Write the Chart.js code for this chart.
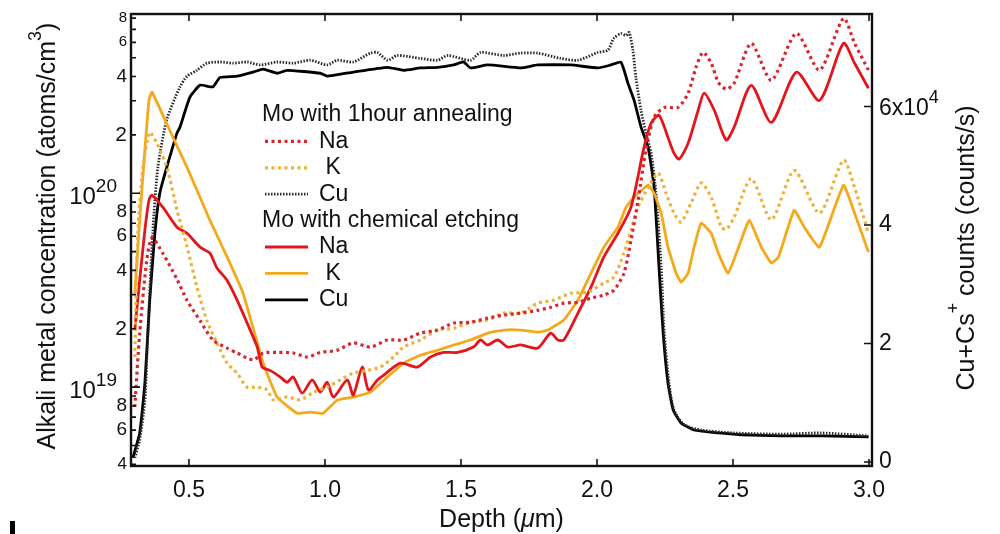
<!DOCTYPE html>
<html>
<head>
<meta charset="utf-8">
<title>SIMS depth profile</title>
<script src="https://cdn.jsdelivr.net/npm/chart.js@4.4.1/dist/chart.umd.min.js"></script>
<style>
  body { margin: 0; background: #fff; }
  #wrap { width: 1000px; height: 534px; }
</style>
</head>
<body>
<div id="wrap"><canvas id="simsChart" width="1000" height="534"></canvas></div>
<script>
// Depth (um) vs concentration (atoms/cm3) pairs, left log axis
const naAnnealed = [[0.301,7.9e18],[0.319,1.9e19],[0.345,4.5e19],[0.364,5.9e19],[0.404,4.9e19],[0.456,3.6e19],[0.493,2.8e19],[0.541,2.2e19],[0.588,1.75e19],[0.640,1.59e19],[0.677,1.50e19],[0.736,1.38e19],[0.773,1.50e19],[0.824,1.51e19],[0.883,1.50e19],[0.935,1.43e19],[0.983,1.51e19],[1.045,1.55e19],[1.104,1.69e19],[1.167,1.61e19],[1.230,1.75e19],[1.289,1.75e19],[1.351,1.90e19],[1.414,1.97e19],[1.473,2.14e19],[1.535,2.16e19],[1.598,2.27e19],[1.657,2.35e19],[1.720,2.41e19],[1.782,2.49e19],[1.830,2.58e19],[1.878,2.71e19],[1.930,2.74e19],[1.978,2.88e19],[2.025,2.98e19],[2.062,3.16e19],[2.099,3.87e19],[2.125,5.72e19],[2.151,9.2e19],[2.180,1.67e20],[2.210,2.46e20],[2.247,2.77e20],[2.298,2.77e20],[2.335,3.28e20],[2.364,4.46e20],[2.390,5.33e20],[2.420,4.68e20],[2.446,3.73e20],[2.475,3.44e20],[2.504,3.69e20],[2.567,5.93e20],[2.641,3.82e20],[2.733,6.68e20],[2.818,4.31e20],[2.906,7.98e20],[2.947,5.93e20],[2.998,4.31e20]];
const kAnnealed = [[0.301,1.43e19],[0.312,6.2e19],[0.331,1.36e20],[0.356,2.06e20],[0.382,1.81e20],[0.419,1.36e20],[0.456,8.2e19],[0.493,5.3e19],[0.529,3.3e19],[0.566,2.2e19],[0.603,1.69e19],[0.640,1.33e19],[0.677,1.18e19],[0.714,1.0e19],[0.751,1.0e19],[0.787,9.7e18],[0.810,8.6e18],[0.861,8.9e18],[0.909,8.6e18],[0.957,9.4e18],[1.008,1.0e19],[1.056,1.09e19],[1.104,1.18e19],[1.156,1.22e19],[1.204,1.27e19],[1.252,1.43e19],[1.289,1.61e19],[1.351,1.75e19],[1.414,1.97e19],[1.473,2.01e19],[1.535,2.16e19],[1.598,2.22e19],[1.657,2.41e19],[1.720,2.41e19],[1.782,2.71e19],[1.841,2.81e19],[1.904,3.05e19],[1.966,3.09e19],[2.025,3.44e19],[2.062,3.69e19],[2.099,4.91e19],[2.125,6.45e19],[2.151,8.5e19],[2.188,1.07e20],[2.225,1.27e20],[2.254,1.0e20],[2.283,7.9e19],[2.309,7.1e19],[2.346,8.9e19],[2.383,1.13e20],[2.420,9.5e19],[2.457,6.7e19],[2.475,6.5e19],[2.504,7.5e19],[2.567,1.19e20],[2.641,7.3e19],[2.725,1.31e20],[2.818,7.9e19],[2.906,1.48e20],[2.947,1.07e20],[2.998,6.2e19]];
const naEtched = [[0.301,1.97e19],[0.319,3.56e19],[0.338,6.45e19],[0.353,9.21e19],[0.364,9.77e19],[0.404,8.47e19],[0.456,6.68e19],[0.493,6.22e19],[0.541,5.27e19],[0.577,4.91e19],[0.603,4.11e19],[0.640,3.56e19],[0.677,2.81e19],[0.714,2.14e19],[0.751,1.61e19],[0.769,1.27e19],[0.798,1.22e19],[0.835,1.13e19],[0.861,1.06e19],[0.883,1.13e19],[0.916,9.31e18],[0.953,1.09e19],[0.983,9.42e18],[1.008,1.06e19],[1.031,8.88e18],[1.082,1.09e19],[1.104,9.10e18],[1.137,1.27e19],[1.160,9.66e18],[1.193,1.09e19],[1.215,1.15e19],[1.277,1.33e19],[1.340,1.27e19],[1.388,1.43e19],[1.436,1.51e19],[1.487,1.51e19],[1.546,1.61e19],[1.572,1.75e19],[1.598,1.65e19],[1.635,1.75e19],[1.672,1.61e19],[1.720,1.65e19],[1.782,1.59e19],[1.830,1.90e19],[1.856,1.75e19],[1.878,1.75e19],[1.930,2.41e19],[1.978,3.28e19],[2.025,4.68e19],[2.077,6.22e19],[2.125,8.47e19],[2.173,1.73e20],[2.199,2.30e20],[2.228,2.52e20],[2.261,1.94e20],[2.283,1.61e20],[2.302,1.50e20],[2.335,1.81e20],[2.372,2.68e20],[2.394,3.28e20],[2.431,2.68e20],[2.475,1.88e20],[2.504,2.19e20],[2.567,3.60e20],[2.641,2.32e20],[2.733,4.21e20],[2.818,3.01e20],[2.906,5.93e20],[2.947,4.68e20],[2.998,3.48e20]];
const kEtched = [[0.301,3.05e19],[0.319,7.3e19],[0.338,1.67e20],[0.353,3.0e20],[0.364,3.32e20],[0.430,2.1e20],[0.493,1.36e20],[0.577,7.26e19],[0.640,4.7e19],[0.699,3.05e19],[0.773,1.33e19],[0.824,8.9e18],[0.898,7.34e18],[0.946,7.43e18],[0.994,7.34e18],[1.045,8.57e18],[1.104,8.88e18],[1.167,9.42e18],[1.230,1.13e19],[1.289,1.33e19],[1.351,1.46e19],[1.414,1.55e19],[1.473,1.65e19],[1.535,1.75e19],[1.598,1.90e19],[1.657,1.97e19],[1.720,1.97e19],[1.782,1.92e19],[1.819,1.97e19],[1.878,2.22e19],[1.930,2.81e19],[1.978,3.87e19],[2.025,5.27e19],[2.077,6.68e19],[2.107,8.47e19],[2.136,9.54e19],[2.188,1.10e20],[2.210,1.0e20],[2.236,7.89e19],[2.261,5.27e19],[2.291,3.87e19],[2.309,3.48e19],[2.335,3.87e19],[2.357,5.27e19],[2.383,7.01e19],[2.420,6.22e19],[2.446,4.91e19],[2.482,3.87e19],[2.530,5.72e19],[2.560,7.26e19],[2.604,5.27e19],[2.641,4.36e19],[2.667,4.68e19],[2.725,8.17e19],[2.762,6.68e19],[2.818,5.27e19],[2.906,1.10e20],[2.947,7.89e19],[2.998,4.97e19]];

// Cu+Cs+ counts (counts/s), right linear axis
const cuAnnealed = [[0.301,700],[0.319,3800],[0.338,10400],[0.349,21900],[0.367,38700],[0.386,49800],[0.419,57800],[0.467,63300],[0.493,65100],[0.529,66100],[0.566,67300],[0.614,67500],[0.662,67300],[0.714,67500],[0.762,67000],[0.824,67500],[0.883,67300],[0.946,67800],[1.008,67000],[1.045,67800],[1.104,67500],[1.167,69000],[1.193,69100],[1.230,67800],[1.266,68600],[1.351,68100],[1.414,67800],[1.451,68600],[1.535,67800],[1.572,69100],[1.657,68600],[1.720,69000],[1.782,69000],[1.867,68100],[1.930,67800],[2.003,69100],[2.040,69500],[2.062,71500],[2.088,72300],[2.107,72000],[2.118,72500],[2.132,69500],[2.143,64900],[2.162,59300],[2.180,55500],[2.199,52100],[2.217,45300],[2.236,32900],[2.247,21900],[2.265,13300],[2.283,8800],[2.320,6300],[2.383,5400],[2.504,4900],[2.678,4700],[2.825,4900],[2.998,4400]];
const cuEtched = [[0.294,700],[0.319,4900],[0.338,13300],[0.356,27400],[0.375,38700],[0.393,45400],[0.419,49800],[0.456,55500],[0.467,56500],[0.504,61600],[0.541,63600],[0.588,63300],[0.614,64900],[0.677,65100],[0.736,65800],[0.773,66300],[0.824,65600],[0.861,66100],[0.983,65600],[1.008,65100],[1.104,65800],[1.230,66600],[1.289,66100],[1.351,66500],[1.414,66600],[1.473,67000],[1.510,67500],[1.535,66500],[1.598,67000],[1.720,66500],[1.782,67000],[1.904,67000],[2.003,66500],[2.051,67000],[2.088,67500],[2.114,63900],[2.136,61100],[2.162,56500],[2.188,53100],[2.210,46400],[2.228,32900],[2.243,21900],[2.261,13300],[2.280,8800],[2.309,6600],[2.357,5400],[2.446,4900],[2.530,4600],[2.678,4400],[2.825,4400],[2.998,4250]];

// Axis ticks and labels
const depthTicks = [0.5, 1.0, 1.5, 2.0, 2.5, 3.0];
const depthLabels = ['0.5', '1.0', '1.5', '2.0', '2.5', '3.0'];
const countTicks = [0, 20000, 40000, 60000];
const countLabels = ['0', '2', '4', '6x10'];
const concLabels = [[8e20, '8', 15], [6e20, '6', 15], [4e20, '4', 19], [2e20, '2', 21],
                    [8e19, '8', 19], [6e19, '6', 19], [4e19, '4', 19], [2e19, '2', 21],
                    [8e18, '8', 19], [6e18, '6', 19], [4e18, '4', 17]];
const decadeExps = [19, 20];

const FONT = "'Liberation Sans', Arial, sans-serif";
const RED = '#e3161c', RED_DOT = '#d8262e', ORANGE = '#f4a81c', ORANGE_DOT = '#ecb23a';

const toPoints = arr => arr.map(([x, y]) => ({ x, y }));

function line(label, data, color, opts) {
    return Object.assign({
        label,
        data: toPoints(data),
        borderColor: color,
        borderWidth: 2.8,
        pointRadius: 0,
        tension: 0.25,
        fill: false,
        yAxisID: 'y'
    }, opts || {});
}

const datasets = [
    line('Na (annealed)', naAnnealed, RED_DOT, { borderDash: [3, 3.5], borderWidth: 3.2 }),
    line('K (annealed)', kAnnealed, ORANGE_DOT, { borderDash: [3, 3.5], borderWidth: 3.2 }),
    line('Na (etched)', naEtched, RED),
    line('K (etched)', kEtched, ORANGE, { tension: 0.12 }),
    line('Cu (annealed)', cuAnnealed, '#2a2a2a', { borderDash: [1.5, 1.5], borderWidth: 2.8, yAxisID: 'y2' }),
    line('Cu (etched)', cuEtched, '#000', { yAxisID: 'y2', tension: 0.15 })
];

// legend rows: [dataset index or null for a heading, text]
const legendRows = [
    [null, 'Mo with 1hour annealing'], [0, 'Na'], [1, ' K'], [4, 'Cu'],
    [null, 'Mo with chemical etching'], [2, 'Na'], [3, ' K'], [5, 'Cu']
];

function drawSup(ctx, base, sup, x, y, size, supSize, align) {
    ctx.font = `${size}px ${FONT}`;
    const wb = ctx.measureText(base).width;
    ctx.font = `${supSize}px ${FONT}`;
    const ws = ctx.measureText(sup).width;
    const left = align === 'right' ? x - wb - ws : (align === 'center' ? x - (wb + ws) / 2 : x);
    ctx.textAlign = 'left';
    ctx.font = `${size}px ${FONT}`;
    ctx.fillText(base, left, y);
    ctx.font = `${supSize}px ${FONT}`;
    ctx.fillText(sup, left + wb, y - size * 0.45);
}

const axesPlugin = {
    id: 'axesPlugin',
    afterDatasetsDraw(chart) {
        const { ctx, chartArea: a } = chart;
        const sx = chart.scales.x, sy = chart.scales.y, sy2 = chart.scales.y2;
        ctx.save();
        ctx.strokeStyle = '#111';
        ctx.fillStyle = '#111';

        // ticks, pointing into the plot
        ctx.lineWidth = 1.6;
        ctx.beginPath();
        depthTicks.forEach(v => {
            const px = sx.getPixelForValue(v);
            ctx.moveTo(px, a.bottom); ctx.lineTo(px, a.bottom - 7);
            ctx.moveTo(px, a.top); ctx.lineTo(px, a.top + 7);
        });
        for (let e = 18; e <= 20; e++) {
            for (let m = 1; m <= 9; m++) {
                const v = m * Math.pow(10, e);
                if (v < sy.min || v > sy.max) continue;
                const py = sy.getPixelForValue(v);
                ctx.moveTo(a.left, py); ctx.lineTo(a.left + (m === 1 ? 9 : 5), py);
            }
        }
        countTicks.forEach(v => {
            const py = sy2.getPixelForValue(v);
            ctx.moveTo(a.right, py); ctx.lineTo(a.right - 8, py);
        });
        ctx.stroke();

        // frame
        ctx.lineWidth = 2.4;
        ctx.strokeRect(a.left, a.top, a.right - a.left, a.bottom - a.top);

        // x tick labels
        ctx.textBaseline = 'middle';
        ctx.textAlign = 'center';
        ctx.font = `23px ${FONT}`;
        depthTicks.forEach((v, i) => ctx.fillText(depthLabels[i], sx.getPixelForValue(v), a.bottom + 25));

        // left log labels
        ctx.textAlign = 'right';
        concLabels.forEach(([v, t, s]) => {
            ctx.font = `${s}px ${FONT}`;
            ctx.fillText(t, a.left - 4, sy.getPixelForValue(v));
        });
        decadeExps.forEach(e => {
            const py = sy.getPixelForValue(Math.pow(10, e));
            drawSup(ctx, '10', String(e), a.left - 14, py + 4, 24, 19, 'right');
        });

        // right linear labels
        countTicks.forEach((v, i) => {
            const py = sy2.getPixelForValue(v);
            if (i === countTicks.length - 1) {
                drawSup(ctx, countLabels[i], '4', a.right + 7, py + 2, 23, 18, 'left');
            } else {
                ctx.textAlign = 'left';
                ctx.font = `23px ${FONT}`;
                ctx.fillText(countLabels[i], a.right + 7, py);
            }
        });

        // axis titles
        ctx.font = `25px ${FONT}`;
        ctx.textAlign = 'left';
        const dw1 = ctx.measureText('Depth (').width;
        ctx.font = `italic 25px ${FONT}`;
        const mw = ctx.measureText('\u03bc').width;
        ctx.font = `25px ${FONT}`;
        const dw2 = ctx.measureText('m)').width;
        let tx = (a.left + a.right) / 2 - (dw1 + mw + dw2) / 2;
        const ty = 520;
        ctx.fillText('Depth (', tx, ty);
        ctx.font = `italic 25px ${FONT}`;
        ctx.fillText('\u03bc', tx + dw1, ty);
        ctx.font = `25px ${FONT}`;
        ctx.fillText('m)', tx + dw1 + mw, ty);

        ctx.save();
        ctx.translate(48, 236);
        ctx.rotate(-Math.PI / 2);
        ctx.font = `25px ${FONT}`;
        const t1 = 'Alkali metal concentration (atoms/cm';
        const w1 = ctx.measureText(t1).width;
        ctx.font = `18px ${FONT}`;
        const w3 = ctx.measureText('3').width;
        ctx.font = `25px ${FONT}`;
        const wp = ctx.measureText(')').width;
        let lx = -(w1 + w3 + wp) / 2;
        ctx.fillText(t1, lx, 0);
        ctx.font = `18px ${FONT}`;
        ctx.fillText('3', lx + w1, -12);
        ctx.font = `25px ${FONT}`;
        ctx.fillText(')', lx + w1 + w3, 0);
        ctx.restore();

        ctx.save();
        ctx.translate(967, 248);
        ctx.rotate(-Math.PI / 2);
        ctx.font = `25px ${FONT}`;
        const r1 = 'Cu+Cs', r2 = ' counts (counts/s)';
        const rw1 = ctx.measureText(r1).width, rw2 = ctx.measureText(r2).width;
        ctx.font = `18px ${FONT}`;
        const rws = ctx.measureText('+').width;
        let rx = -(rw1 + rws + rw2) / 2;
        ctx.font = `25px ${FONT}`;
        ctx.fillText(r1, rx, 0);
        ctx.font = `18px ${FONT}`;
        ctx.fillText('+', rx + rw1, -13);
        ctx.font = `25px ${FONT}`;
        ctx.fillText(r2, rx + rw1 + rws, 0);
        ctx.restore();

        // legend
        const lx0 = 262, ly0 = 115, rowH = 26.4;
        legendRows.forEach(([idx, text], r) => {
            const y = ly0 + r * rowH;
            ctx.font = `23px ${FONT}`;
            ctx.textAlign = 'left';
            ctx.fillStyle = '#111';
            if (idx === null) {
                ctx.fillText(text, lx0, y);
                return;
            }
            const ds = chart.data.datasets[idx];
            ctx.save();
            ctx.strokeStyle = ds.borderColor;
            ctx.lineWidth = ds.borderWidth;
            ctx.setLineDash(ds.borderDash || []);
            ctx.beginPath();
            ctx.moveTo(lx0 + 3, y);
            ctx.lineTo(lx0 + 46, y);
            ctx.stroke();
            ctx.restore();
            ctx.fillText(text, lx0 + 57, y);
        });

        // small mark at the lower left edge
        ctx.fillStyle = '#000';
        ctx.fillRect(10, 521, 5, 13);
        ctx.restore();
    }
};

new Chart(document.getElementById('simsChart'), {
    type: 'line',
    data: { datasets },
    options: {
        responsive: false,
        animation: false,
        events: [],
        layout: { padding: { left: 131, right: 128, top: 14, bottom: 68 } },
        plugins: { legend: { display: false }, tooltip: { enabled: false } },
        scales: {
            x: { type: 'linear', display: false, min: 0.287, max: 3.011 },
            y: { type: 'logarithmic', display: false, min: 3.92e18, max: 8.4e20 },
            y2: { type: 'linear', display: false, min: -675, max: 75600 }
        }
    },
    plugins: [axesPlugin]
});
</script>
</body>
</html>
